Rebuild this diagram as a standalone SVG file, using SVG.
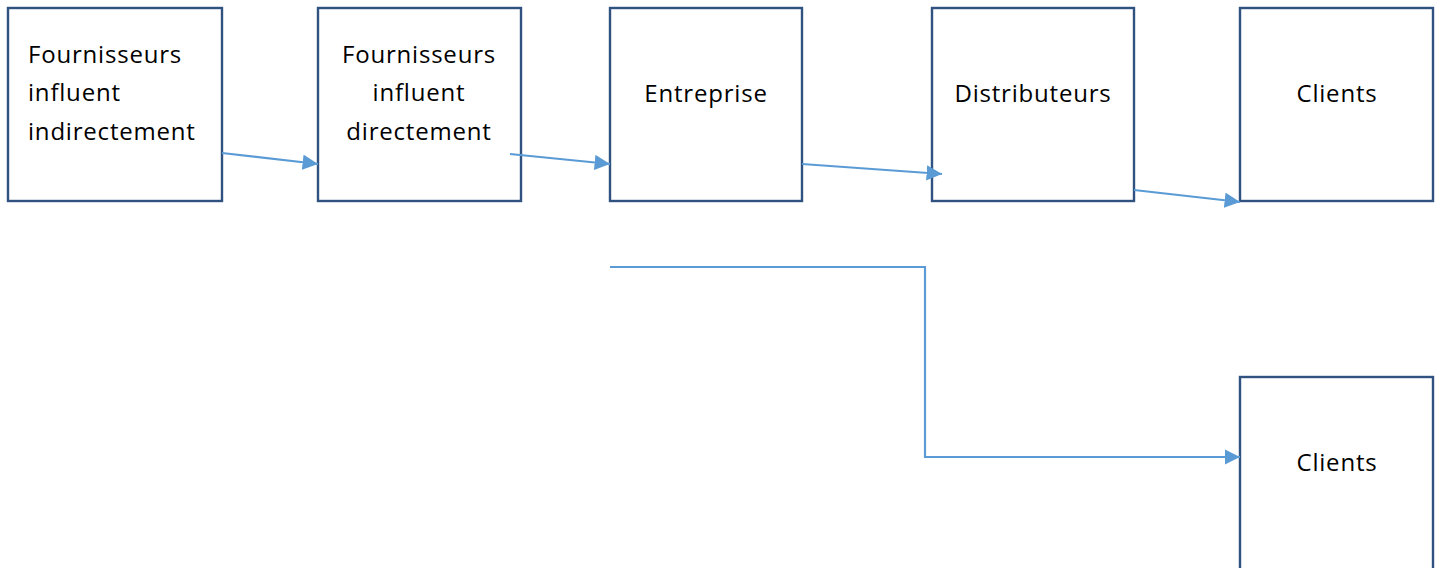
<svg xmlns="http://www.w3.org/2000/svg" width="1438" height="568" viewBox="0 0 1438 568">
<style>
.box{fill:#fff;stroke:#2f5280;stroke-width:2.4}
.t{font-family:"Open Sans","Liberation Sans",sans-serif;font-size:24px;letter-spacing:0.8px;fill:#000}
.c{text-anchor:middle}
.con{fill:none;stroke:#5b9bd5;stroke-width:2.2}
</style>
<defs>
<marker id="ah" viewBox="0 0 10 10" refX="10" refY="5" markerWidth="7" markerHeight="7" orient="auto">
<path d="M0,0 L10,5 L0,10 Z" fill="#5b9bd5"/>
</marker>
</defs>
<g id="n1"><rect class="box" x="8" y="8" width="214" height="193"/>
<text class="t" x="28" y="63">Fournisseurs</text><text class="t" x="28" y="101">influent</text><text class="t" x="28" y="140">indirectement</text></g>
<g id="n2"><rect class="box" x="318" y="8" width="203" height="193"/>
<text class="t c" x="419" y="63">Fournisseurs</text><text class="t c" x="419" y="101">influent</text><text class="t c" x="419" y="140">directement</text></g>
<g id="n3"><rect class="box" x="610" y="8" width="192" height="193"/>
<text class="t c" x="706" y="102">Entreprise</text></g>
<g id="n4"><rect class="box" x="932" y="8" width="202" height="193"/>
<text class="t c" x="1033" y="102">Distributeurs</text></g>
<g id="n5"><rect class="box" x="1240" y="8" width="193" height="193"/>
<text class="t c" x="1337" y="102">Clients</text></g>
<g id="n6"><rect class="box" x="1240" y="377" width="193" height="200"/>
<text class="t c" x="1337" y="471">Clients</text></g>
<g id="connectors">
<line class="con" x1="222" y1="153" x2="318" y2="164" marker-end="url(#ah)"/>
<line class="con" x1="510" y1="154" x2="610" y2="164" marker-end="url(#ah)"/>
<line class="con" x1="802" y1="164" x2="942" y2="174" marker-end="url(#ah)"/>
<line class="con" x1="1134" y1="190" x2="1240" y2="202" marker-end="url(#ah)"/>
<polyline class="con" points="610,267 925,267 925,457 1240,457" marker-end="url(#ah)"/>
</g>
</svg>
